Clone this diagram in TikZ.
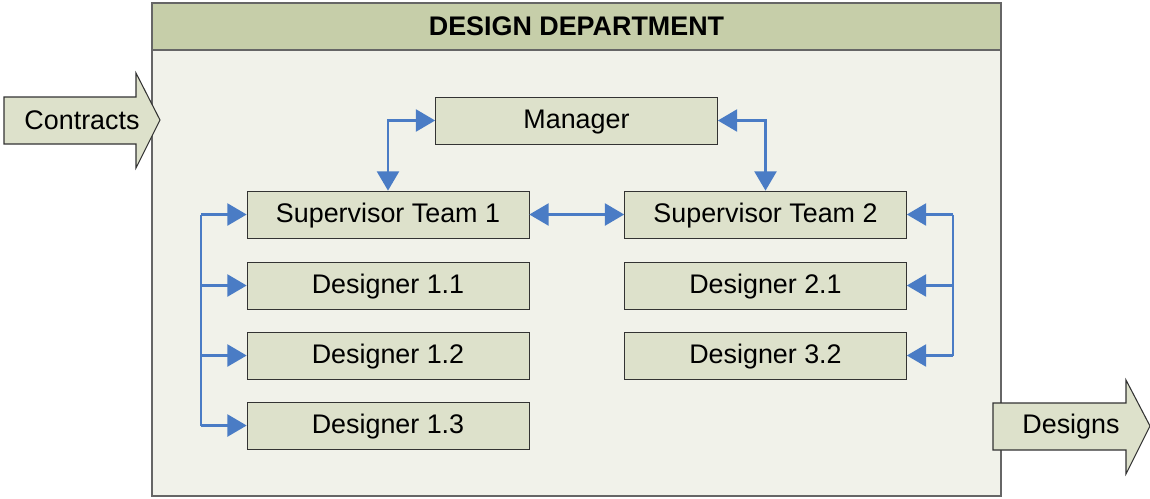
\documentclass[tikz,border=0pt]{standalone}
\usepackage{fontspec}
\setmainfont{Liberation Sans}
\usetikzlibrary{arrows.meta}
\definecolor{boxfill}{HTML}{DDE1CB}
\definecolor{headfill}{HTML}{C6CEA9}
\definecolor{deptfill}{HTML}{F1F2EA}
\definecolor{linkblue}{HTML}{4A7CC5}
\begin{document}
\begin{tikzpicture}[x=0.02cm, y=-0.02cm,
    role/.style={draw=black!80, fill=boxfill, minimum width=5.64cm, minimum height=0.94cm,
      inner sep=0pt, text height=11pt, text depth=1.4pt, font=\fontsize{15.3}{18}\selectfont},
    link/.style={draw=linkblue, line width=1.5pt,
      arrows={-Triangle[length=11pt, width=12.5pt]}},
    flow/.style={draw=black!80, fill=boxfill, line width=0.6pt}
  ]
    \useasboundingbox (0,0) rectangle (1150,498);

    % department frame
    \draw[draw=black!60, fill=deptfill, line width=0.6pt] (152,50) rectangle (1001,496);
    \draw[draw=black!60, fill=headfill, line width=0.6pt] (152,3) rectangle (1001,50);
    \node[font=\fontsize{15.3}{18}\selectfont\bfseries] (dept) at (576.5,26.5) {DESIGN DEPARTMENT};

    % in and out
    \draw[flow] (4,97) -- (136,97) -- (136,73) -- (160,120) -- (136,168) -- (136,144) -- (4,144) -- cycle;
    \node[font=\fontsize{15.3}{18}\selectfont] (contracts) at (82,120) {Contracts};
    \draw[flow] (993,403) -- (1126,403) -- (1126,380) -- (1150,426) -- (1126,474) -- (1126,450) -- (993,450) -- cycle;
    \node[font=\fontsize{15.3}{18}\selectfont] (designs) at (1071,427) {Designs};

    % roles
    \node[role] (man) at (576.5,120.5) {Manager};
    \node[role] (sup1) at (388,214.5) {Supervisor Team 1};
    \node[role] (sup2) at (765.5,214.5) {Supervisor Team 2};
    \node[role] (d11) at (388,285.5) {Designer 1.1};
    \node[role] (d12) at (388,355.5) {Designer 1.2};
    \node[role] (d13) at (388,425.5) {Designer 1.3};
    \node[role] (d21) at (765.5,285.5) {Designer 2.1};
    \node[role] (d32) at (765.5,355.5) {Designer 3.2};

    \coordinate (lbus) at (201,0);
    \coordinate (rbus) at (953,0);

    % connectors
    \draw[link, {Triangle[length=11pt, width=12.5pt]}-{Triangle[length=11pt, width=12.5pt]}] (man.west) -| (sup1.north);
    \draw[link, {Triangle[length=11pt, width=12.5pt]}-{Triangle[length=11pt, width=12.5pt]}] (man.east) -| (sup2.north);
    \draw[link, {Triangle[length=11pt, width=12.5pt]}-{Triangle[length=11pt, width=12.5pt]}] (sup1.east) -- (sup2.west);

    \draw[link, arrows=-] (sup1.west -| lbus) -- (d13.west -| lbus);
    \foreach \n in {sup1, d11, d12, d13}
      \draw[link] (\n.west -| lbus) -- (\n.west);

    \draw[link, arrows=-] (sup2.east -| rbus) -- (d32.east -| rbus);
    \foreach \n in {sup2, d21, d32}
      \draw[link] (\n.east -| rbus) -- (\n.east);
  \end{tikzpicture}
\end{document}
